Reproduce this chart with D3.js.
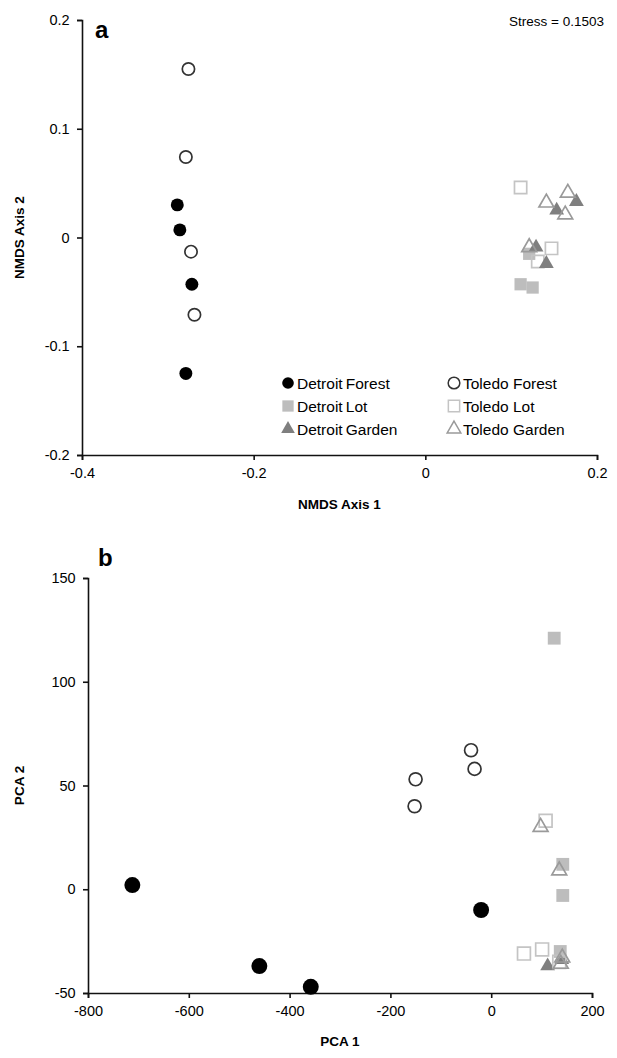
<!DOCTYPE html>
<html>
<head>
<meta charset="utf-8">
<script src="https://cdn.jsdelivr.net/npm/d3@7"></script>
<style>
  body { margin: 0; background: #fff; }
  svg text { font-family: "Liberation Sans", Arial, sans-serif; fill: #000; }
  .axis path, .axis line { stroke: #111; stroke-width: 1.6; }
  .axis text { font-size: 14.5px; }
</style>
</head>
<body>
<svg id="chart" width="617" height="1058"></svg>
<script>
// Panel a: NMDS ordination
const nmdsXTicks = [-0.4, -0.2, 0, 0.2];
const nmdsYTicks = [-0.2, -0.1, 0, 0.1, 0.2];
const nmdsDetroitForest = [[-0.289, 0.030], [-0.286, 0.007], [-0.272, -0.043], [-0.279, -0.125]];
const nmdsToledoForest = [[-0.276, 0.155], [-0.279, 0.074], [-0.273, -0.013], [-0.269, -0.071]];
const nmdsDetroitLot = [[0.121, -0.015], [0.111, -0.043], [0.125, -0.046]];
const nmdsToledoLot = [[0.111, 0.046], [0.147, -0.010], [0.131, -0.022]];
const nmdsDetroitGarden = [[0.176, 0.033], [0.153, 0.025], [0.129, -0.009], [0.141, -0.024]];
const nmdsToledoGarden = [[0.141, 0.032], [0.166, 0.041], [0.163, 0.021], [0.121, -0.009]];

// Panel b: PCA
const pcaXTicks = [-800, -600, -400, -200, 0, 200];
const pcaYTicks = [-50, 0, 50, 100, 150];
const pcaDetroitForest = [[-712, 2], [-460, -37], [-358, -47], [-20, -10]];
const pcaToledoForest = [[-150, 53], [-152, 40], [-40, 67], [-33, 58]];
const pcaDetroitLot = [[125, 121], [142, 12], [142, -3], [137, -30]];
const pcaToledoLot = [[108, 33], [65, -31], [101, -29], [135, -35]];
const pcaDetroitGarden = [[112, -37], [140, -34]];
const pcaToledoGarden = [[98, 30], [135, 9], [141, -33], [138, -36]];

const legendLabels = ["Detroit Forest", "Toledo Forest", "Detroit Lot", "Toledo Lot", "Detroit Garden", "Toledo Garden"];

// marker styles per group
const styles = {
    "Detroit Forest": {type: d3.symbolCircle, fill: "#000", stroke: "none"},
    "Toledo Forest": {type: d3.symbolCircle, fill: "#fff", stroke: "#333"},
    "Detroit Lot": {type: d3.symbolSquare, fill: "#bdbdbd", stroke: "none"},
    "Toledo Lot": {type: d3.symbolSquare, fill: "none", stroke: "#c4c4c4"},
    "Detroit Garden": {type: d3.symbolTriangle, fill: "#7f7f7f", stroke: "none"},
    "Toledo Garden": {type: d3.symbolTriangle, fill: "none", stroke: "#9a9a9a"}
};
const sizes = {circle: 125, square: 150, triangle: 95};

const svg = d3.select("#chart");
const fmt = d => String(d);

const symbolSize = (type, k) => {
    if (type === d3.symbolCircle) return sizes.circle * k;
    if (type === d3.symbolSquare) return sizes.square * k;
    return sizes.triangle * k;
};

const drawPoints = (g, x, y, pts, name, k) => {
    const st = styles[name];
    g.selectAll(null)
        .data(pts)
        .enter()
        .append("path")
        .attr("transform", d => `translate(${x(d[0])},${y(d[1])})`)
        .attr("d", d3.symbol().type(st.type).size(symbolSize(st.type, k)))
        .attr("fill", st.fill)
        .attr("stroke", st.stroke)
        .attr("stroke-width", 1.7);
};

const drawAxes = (x, y, xTicks, yTicks, xTitle, yTitle, titleY, yTitleX) => {
    const [y0] = y.range();
    const [x0] = x.range();
    svg.append("g")
        .attr("class", "axis")
        .attr("transform", `translate(0,${y0})`)
        .call(d3.axisBottom(x).tickValues(xTicks).tickFormat(fmt).tickSize(5).tickSizeOuter(5))
        .selectAll("text").attr("dy", "1.05em");
    svg.append("g")
        .attr("class", "axis")
        .attr("transform", `translate(${x0},0)`)
        .call(d3.axisLeft(y).tickValues(yTicks).tickFormat(fmt).tickSize(5).tickSizeOuter(5))
        .selectAll("text").attr("dx", "-0.3em");
    svg.selectAll(".axis .domain").attr("fill", "none");

    svg.append("text")
        .attr("x", (x.range()[0] + x.range()[1]) / 2)
        .attr("y", titleY)
        .attr("text-anchor", "middle")
        .attr("font-size", "13.5px")
        .attr("font-weight", "bold")
        .text(xTitle);
    const yc = (y.range()[0] + y.range()[1]) / 2;
    svg.append("text")
        .attr("transform", `translate(${yTitleX},${yc}) rotate(-90)`)
        .attr("text-anchor", "middle")
        .attr("font-size", "13.5px")
        .attr("font-weight", "bold")
        .text(yTitle);
};

// ---- Panel a ----
const xA = d3.scaleLinear().domain([-0.4, 0.2]).range([82, 597]);
const yA = d3.scaleLinear().domain([-0.2, 0.2]).range([455, 20]);
drawAxes(xA, yA, nmdsXTicks, nmdsYTicks, "NMDS Axis 1", "NMDS Axis 2", 509, 24);

const gA = svg.append("g");
drawPoints(gA, xA, yA, nmdsDetroitLot, "Detroit Lot", 1);
drawPoints(gA, xA, yA, nmdsToledoLot, "Toledo Lot", 1);
drawPoints(gA, xA, yA, nmdsDetroitGarden, "Detroit Garden", 1);
drawPoints(gA, xA, yA, nmdsToledoGarden, "Toledo Garden", 1);
drawPoints(gA, xA, yA, nmdsDetroitForest, "Detroit Forest", 1.05);
drawPoints(gA, xA, yA, nmdsToledoForest, "Toledo Forest", 0.95);

svg.append("text")
    .attr("x", 95).attr("y", 38)
    .attr("font-size", "24px").attr("font-weight", "bold")
    .text("a");
svg.append("text")
    .attr("x", 604).attr("y", 26)
    .attr("text-anchor", "end")
    .attr("font-size", "13.5px")
    .text("Stress = 0.1503");

// legend, two columns
const legend = svg.append("g");
legendLabels.forEach((name, i) => {
    const col = i % 2, row = Math.floor(i / 2);
    const lx = col === 0 ? 288 : 454;
    const ly = 383 + row * 23;
    const st = styles[name];
    legend.append("path")
        .attr("transform", `translate(${lx},${ly})`)
        .attr("d", d3.symbol().type(st.type).size(symbolSize(st.type, 0.85))())
        .attr("fill", st.fill)
        .attr("stroke", st.stroke)
        .attr("stroke-width", 1.5);
    legend.append("text")
        .attr("x", lx + 9)
        .attr("y", ly + 5.5)
        .attr("font-size", "15.5px")
        .text(col === 0 ? name.replace(" ", "\u2009") : name);
});

// ---- Panel b ----
const xB = d3.scaleLinear().domain([-800, 200]).range([88, 592]);
const yB = d3.scaleLinear().domain([-50, 150]).range([993, 578]);
drawAxes(xB, yB, pcaXTicks, pcaYTicks, "PCA 1", "PCA 2", 1046, 24);

const gB = svg.append("g");
drawPoints(gB, xB, yB, pcaDetroitGarden, "Detroit Garden", 1);
drawPoints(gB, xB, yB, pcaDetroitLot, "Detroit Lot", 1.1);
drawPoints(gB, xB, yB, pcaToledoLot, "Toledo Lot", 1.1);
drawPoints(gB, xB, yB, pcaToledoGarden, "Toledo Garden", 1);
drawPoints(gB, xB, yB, pcaDetroitForest, "Detroit Forest", 1.6);
drawPoints(gB, xB, yB, pcaToledoForest, "Toledo Forest", 1.05);

svg.append("text")
    .attr("x", 98).attr("y", 566)
    .attr("font-size", "24px").attr("font-weight", "bold")
    .text("b");
</script>
</body>
</html>
